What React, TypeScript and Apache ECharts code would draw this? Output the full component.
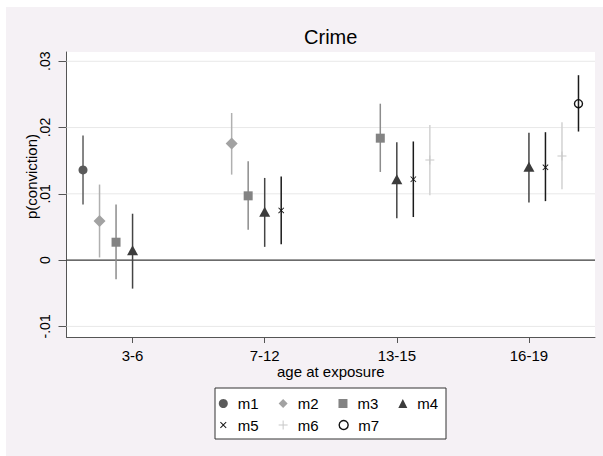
import React, { useEffect, useRef } from 'react';
import * as echarts from 'echarts';

// ---------- data ----------
const categories = ['3-6', '7-12', '13-15', '16-19'];
const models = ['m1', 'm2', 'm3', 'm4', 'm5', 'm6', 'm7'];

// point estimates per model, one entry per age group (null = not estimated)
const est_m1 = [0.0136, null, null, null];
const est_m2 = [0.0059, 0.0176, null, null];
const est_m3 = [0.0027, 0.0097, 0.0184, null];
const est_m4 = [0.0015, 0.0073, 0.0122, 0.0141];
const est_m5 = [null, 0.0075, 0.0122, 0.014];
const est_m6 = [null, null, 0.0151, 0.0157];
const est_m7 = [null, null, null, 0.0236];

const lo_m1 = [0.0084, null, null, null];
const lo_m2 = [0.0004, 0.0129, null, null];
const lo_m3 = [-0.0029, 0.0046, 0.0133, null];
const lo_m4 = [-0.0043, 0.002, 0.0063, 0.0087];
const lo_m5 = [null, 0.0024, 0.0065, 0.0089];
const lo_m6 = [null, null, 0.0098, 0.0107];
const lo_m7 = [null, null, null, 0.0194];

const hi_m1 = [0.0188, null, null, null];
const hi_m2 = [0.0114, 0.0222, null, null];
const hi_m3 = [0.0084, 0.0149, 0.0236, null];
const hi_m4 = [0.007, 0.0124, 0.0178, 0.0192];
const hi_m5 = [null, 0.0126, 0.0179, 0.0193];
const hi_m6 = [null, null, 0.0204, 0.0208];
const hi_m7 = [null, null, null, 0.0279];

const estimates = [est_m1, est_m2, est_m3, est_m4, est_m5, est_m6, est_m7];
const lowers = [lo_m1, lo_m2, lo_m3, lo_m4, lo_m5, lo_m6, lo_m7];
const uppers = [hi_m1, hi_m2, hi_m3, hi_m4, hi_m5, hi_m6, hi_m7];

const yTicks = [-0.01, 0, 0.01, 0.02, 0.03];
const xTicks = [1, 2, 3, 4];

// ---------- styles ----------
const FONT = '"Liberation Sans", Arial, Helvetica, sans-serif';
const X_PATH = 'path://M1,0L5,4L9,0L10,1L6,5L10,9L9,10L5,6L1,10L0,9L4,5L0,1Z';
const X_LEGEND_PATH = 'path://M-2,-2M12,12M1,0L5,4L9,0L10,1L6,5L10,9L9,10L5,6L1,10L0,9L4,5L0,1Z';
const PLUS_PATH = 'path://M4.45,0H5.55V4.45H10V5.55H5.55V10H4.45V5.55H0V4.45H4.45Z';

const markerColors = ['#5a5a5a', '#a2a2a2', '#838383', '#3c3c3c', '#111111', '#c8c8c8', '#111111'];
const ciColors = ['#5e5e5e', '#b0b0b0', '#8c8c8c', '#444444', '#1a1a1a', '#d2d2d2', '#1a1a1a'];
const symbols = ['circle', 'diamond', 'rect', 'triangle', X_PATH, PLUS_PATH, 'circle'];
const legendIcons = ['circle', 'diamond', 'rect', 'triangle', X_LEGEND_PATH, PLUS_PATH, 'circle'];
const symbolSizes: any[] = [9, 12, 9, [11, 10], 6, 9, 8];
const OFFSET_STEP = 0.125;

function xPos(g: number, m: number) {
  return g + 1 + (m - 3) * OFFSET_STEP;
}

function buildOption() {
  const ciData: any[] = [];
  estimates.forEach((arr, m) => {
    arr.forEach((v, g) => {
      if (v !== null) ciData.push([xPos(g, m), lowers[m][g], uppers[m][g], m]);
    });
  });

  const scatterSeries = models.map((name, m) => {
    const data: any[] = [];
    estimates[m].forEach((v, g) => {
      if (v !== null) data.push([xPos(g, m), v]);
    });
    const isHollow = m === 6;
    return {
      type: 'scatter',
      name,
      data,
      symbol: symbols[m],
      symbolSize: symbolSizes[m],
      z: 5,
      itemStyle: isHollow
        ? { color: 'rgba(0,0,0,0)', borderColor: markerColors[m], borderWidth: 1.4, opacity: 1 }
        : { color: markerColors[m], opacity: 1 },
      emphasis: { disabled: true },
    };
  });

  const legendItem = (m: number) => {
    const item: any = { name: models[m], icon: legendIcons[m] };
    if (m === 6) item.itemStyle = { color: 'rgba(0,0,0,0)', borderColor: '#111', borderWidth: 1.4 };
    return item;
  };

  const legendCommon = {
    orient: 'horizontal',
    left: 212.8,
    padding: 0,
    itemWidth: 9,
    itemHeight: 9,
    itemGap: 20,
    selectedMode: false,
    textStyle: { fontFamily: FONT, fontSize: 15, color: '#000', lineHeight: 17, padding: [0, 0, 0, 5] },
  };

  return {
    animation: false,
    backgroundColor: '#F5F1F5',
    textStyle: { fontFamily: FONT },
    title: {
      text: 'Crime',
      left: 324.7,
      top: 20,
      padding: 0,
      textAlign: 'center',
      textStyle: { fontFamily: FONT, fontSize: 20, fontWeight: 'normal', color: '#000' },
    },
    grid: {
      left: 60.5,
      right: 8,
      top: 45,
      bottom: 119,
      show: true,
      backgroundColor: '#ffffff',
      borderWidth: 0,
      containLabel: false,
    },
    legend: [
      { ...legendCommon, top: 388, data: [0, 1, 2, 3].map(legendItem) },
      { ...legendCommon, top: 409.5, data: [4, 5, 6].map(legendItem) },
    ],
    graphic: [
      {
        type: 'rect',
        z: 0,
        shape: { x: 209, y: 381, width: 231, height: 51 },
        style: { fill: '#ffffff', stroke: '#333333', lineWidth: 1 },
        silent: true,
      },
    ],
    xAxis: {
      type: 'value',
      min: 0.5,
      max: 4.5,
      name: 'age at exposure',
      nameLocation: 'middle',
      nameGap: 27,
      nameMoveOverlap: false,
      nameTextStyle: { fontFamily: FONT, fontSize: 15, color: '#000' },
      axisLine: { show: true, onZero: false, lineStyle: { color: '#555', width: 1 } },
      axisTick: { show: true, length: 6, customValues: xTicks, lineStyle: { color: '#555' } },
      axisLabel: {
        customValues: xTicks,
        margin: 11,
        fontFamily: FONT,
        fontSize: 15,
        color: '#000',
        formatter: (v: number) => categories[Math.round(v) - 1] ?? '',
      },
      splitLine: { show: false },
    },
    yAxis: {
      type: 'value',
      min: -0.0116,
      max: 0.0314,
      name: 'p(conviction)',
      nameLocation: 'middle',
      nameGap: 28,
      nameMoveOverlap: false,
      nameTextStyle: { fontFamily: FONT, fontSize: 15, color: '#000', padding: [0, 0, 0, 36] },
      axisLine: { show: true, onZero: false, lineStyle: { color: '#555', width: 1 } },
      axisTick: { show: true, length: 8, customValues: yTicks, lineStyle: { color: '#555' } },
      axisLabel: {
        customValues: yTicks,
        rotate: 90,
        margin: 15,
        fontFamily: FONT,
        fontSize: 14,
        color: '#000',
        formatter: (v: number) => {
          if (Math.abs(v) < 1e-9) return '0';
          return v.toFixed(2).replace('0.', '.');
        },
      },
      splitLine: { show: false },
    },
    series: [
      {
        type: 'custom',
        name: '__grid',
        z: 1,
        silent: true,
        data: yTicks.map((v) => [1, v]),
        encode: { x: 0, y: 1 },
        renderItem: (params: any, api: any) => {
          const v = api.value(1);
          const p = api.coord([1, v]);
          const cs = params.coordSys;
          const isZero = Math.abs(v) < 1e-12;
          return {
            type: 'line',
            z2: isZero ? 2 : 1,
            shape: { x1: cs.x, y1: p[1], x2: cs.x + cs.width, y2: p[1] },
            style: { stroke: isZero ? '#3a3a3a' : '#e8e8e8', lineWidth: isZero ? 1.3 : 1 },
          };
        },
      },
      {
        type: 'custom',
        name: '__ci',
        z: 3,
        silent: true,
        data: ciData,
        encode: { x: 0, y: [1, 2] },
        renderItem: (params: any, api: any) => {
          const x = api.value(0);
          const p1 = api.coord([x, api.value(1)]);
          const p2 = api.coord([x, api.value(2)]);
          const m = api.value(3);
          return {
            type: 'line',
            shape: { x1: p1[0], y1: p1[1], x2: p2[0], y2: p2[1] },
            style: { stroke: ciColors[m], lineWidth: 1.5 },
          };
        },
      },
      ...scatterSeries,
    ],
  };
}

export default function App() {
  const ref = useRef<HTMLDivElement>(null);
  useEffect(() => {
    const chart = echarts.init(ref.current!, null, { renderer: 'svg' });
    chart.setOption(buildOption() as any);
    return () => chart.dispose();
  }, []);
  return (
    <div style={{ position: 'absolute', left: 0, top: 0, width: 603, height: 456, background: '#ffffff' }}>
      <div ref={ref} style={{ position: 'absolute', left: 6, top: 7, width: 597, height: 449 }} />
    </div>
  );
}
